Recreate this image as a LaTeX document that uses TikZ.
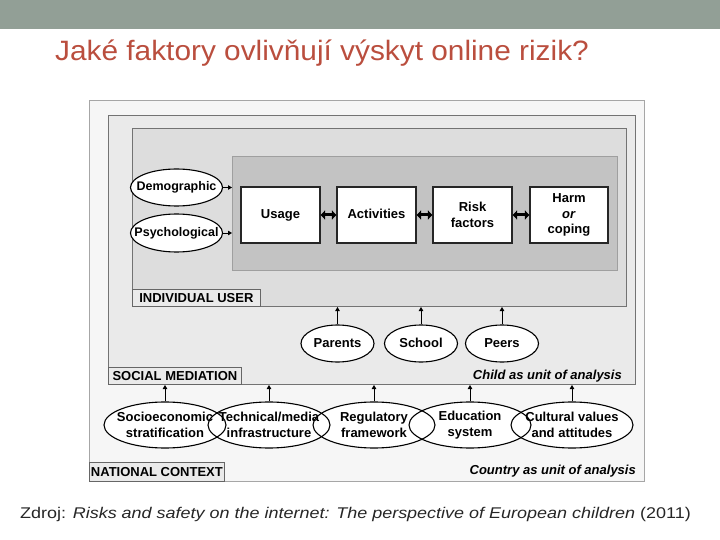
\documentclass[tikz,border=0pt]{standalone}
\usepackage{fontspec}
\setmainfont{Liberation Sans}
\usetikzlibrary{shapes.geometric,arrows.meta}
\definecolor{topbar}{RGB}{146,159,150}
\definecolor{titlered}{RGB}{186,78,62}
\definecolor{natfill}{RGB}{246,246,246}
\definecolor{socfill}{RGB}{234,234,234}
\definecolor{indfill}{RGB}{221,221,221}
\definecolor{corefill}{RGB}{195,195,195}
\definecolor{footgray}{RGB}{38,38,38}
\tikzset{
  region/.style={draw=#1, anchor=north west, inner sep=0pt, line width=1pt},
  reglabel/.style={draw=gray!80!black, fill=socfill, anchor=north west, inner sep=0pt, line width=0.8pt,
    font=\fontsize{13}{14}\selectfont\bfseries, text=black},
  stagebox/.style={draw=black!85, fill=white, line width=1.2pt, minimum width=79pt, minimum height=56pt,
    inner sep=0pt, align=center, font=\fontsize{13}{15.5}\selectfont\bfseries},
  oneline/.style={text height=9.5pt, text depth=2.5pt},
  factor/.style={ellipse, draw=black, line width=1.1pt, inner xsep=-10pt, inner ysep=0pt, align=center,
    font=\fontsize{13}{15.5}\selectfont\bfseries},
  smallarrow/.style={-{Triangle[length=4pt,width=4.5pt]}, line width=0.8pt, black},
  bigarrow/.style={{Triangle[length=4.5pt,width=9pt]}-{Triangle[length=4.5pt,width=9pt]}, line width=3pt, black},
  unitlabel/.style={anchor=east, inner sep=0pt, font=\fontsize{13}{14}\selectfont\bfseries\itshape}
}
\begin{document}
\begin{tikzpicture}[x=1pt,y=-1pt]
\useasboundingbox (0,0) rectangle (720,540);
\fill[topbar] (0,0) rectangle (720,29);
\node[anchor=base west, inner sep=0pt, text=titlered, font=\fontsize{28}{30}\selectfont] (title) at (55,61)
  {\scalebox{1.065}[1]{Jaké faktory ovlivňují výskyt online rizik?}};

% regions
\node[region=gray!70, fill=natfill, minimum width=555pt, minimum height=381pt] (nat) at (89,100) {};
\node[region=gray!90!black, fill=socfill, minimum width=527pt, minimum height=269pt] (soc) at (108,115) {};
\node[region=gray!90!black, fill=indfill, minimum width=494pt, minimum height=178pt] (ind) at (132,128) {};
\node[region=gray!75, fill=corefill, minimum width=385pt, minimum height=114pt] (core) at (232,156) {};

\node[reglabel, minimum width=128pt, minimum height=17pt] (indlab) at (132,289) {INDIVIDUAL USER};
\node[reglabel, minimum width=133pt, minimum height=17pt] (soclab) at (108,367) {SOCIAL MEDIATION};
\node[reglabel, minimum width=135pt, minimum height=19pt] (natlab) at (89,462) {NATIONAL CONTEXT};

\node[unitlabel] (childunit) at (622,376) {Child as unit of analysis};
\node[unitlabel] (countryunit) at (636,471) {Country as unit of analysis};

% stages
\node[stagebox, oneline] (usage) at (280.5,215) {Usage};
\node[stagebox, oneline] (act) at (376.5,215) {Activities};
\node[stagebox] (risk) at (472.5,215) {Risk\\factors};
\node[stagebox, minimum width=78pt] (harm) at (569,215) {Harm\\\textit{or}\\coping};
\draw[bigarrow] (usage) -- (act);
\draw[bigarrow] (act) -- (risk);
\draw[bigarrow] (risk) -- (harm);

% individual factors
\node[factor, oneline, fill=white, font=\fontsize{12.5}{15}\selectfont\bfseries, minimum width=92pt, minimum height=37pt] (demo) at (176.5,187.5) {Demographic};
\node[factor, oneline, fill=white, font=\fontsize{12.5}{15}\selectfont\bfseries, minimum width=92pt, minimum height=38pt] (psych) at (176.5,233) {Psychological};
\draw[smallarrow] (demo.east) -- (demo.east -| core.west);
\draw[smallarrow] (psych.east) -- (psych.east -| core.west);

% social mediation
\node[factor, oneline, fill=white, minimum width=73pt, minimum height=37pt] (parents) at (337.5,343.5) {Parents};
\node[factor, oneline, fill=white, minimum width=73pt, minimum height=37pt] (school) at (421,343.5) {School};
\node[factor, oneline, fill=white, minimum width=73pt, minimum height=37pt] (peers) at (502,343.5) {Peers};
\draw[smallarrow] (parents.north) -- (parents.north |- ind.south);
\draw[smallarrow] (school.north) -- (school.north |- ind.south);
\draw[smallarrow] (peers.north) -- (peers.north |- ind.south);

% national context
\coordinate (c1) at (165,425);
\coordinate (c2) at (269,425);
\coordinate (c3) at (374,425);
\coordinate (c4) at (470,425);
\coordinate (c5) at (572,425);
\foreach \c in {c1,c2,c3,c4,c5}
  \fill[white] (\c) ellipse (61pt and 23pt);
\node[factor, minimum width=122pt, minimum height=46pt] (socio) at (c1) {Socioeconomic\\stratification};
\node[factor, minimum width=122pt, minimum height=46pt] (tech) at (c2) {Technical/media\\infrastructure};
\node[factor, minimum width=122pt, minimum height=46pt] (reg) at (c3) {Regulatory\\framework};
\node[factor, minimum width=122pt, minimum height=46pt] (edu) at (c4) {Education\\system};
\node[factor, minimum width=122pt, minimum height=46pt] (cult) at (c5) {Cultural values\\and attitudes};
\foreach \e in {socio,tech,reg,edu,cult}
  \draw[smallarrow] (\e.north) -- (\e.north |- soc.south);

% source
\node[anchor=base west, inner sep=0pt, text=footgray, font=\fontsize{15.5}{18}\selectfont] (source) at (20,518)
  {\scalebox{1.16}[1]{Zdroj: \textit{Risks and safety on the internet: The perspective of European children} (2011)}};
\end{tikzpicture}
\end{document}
